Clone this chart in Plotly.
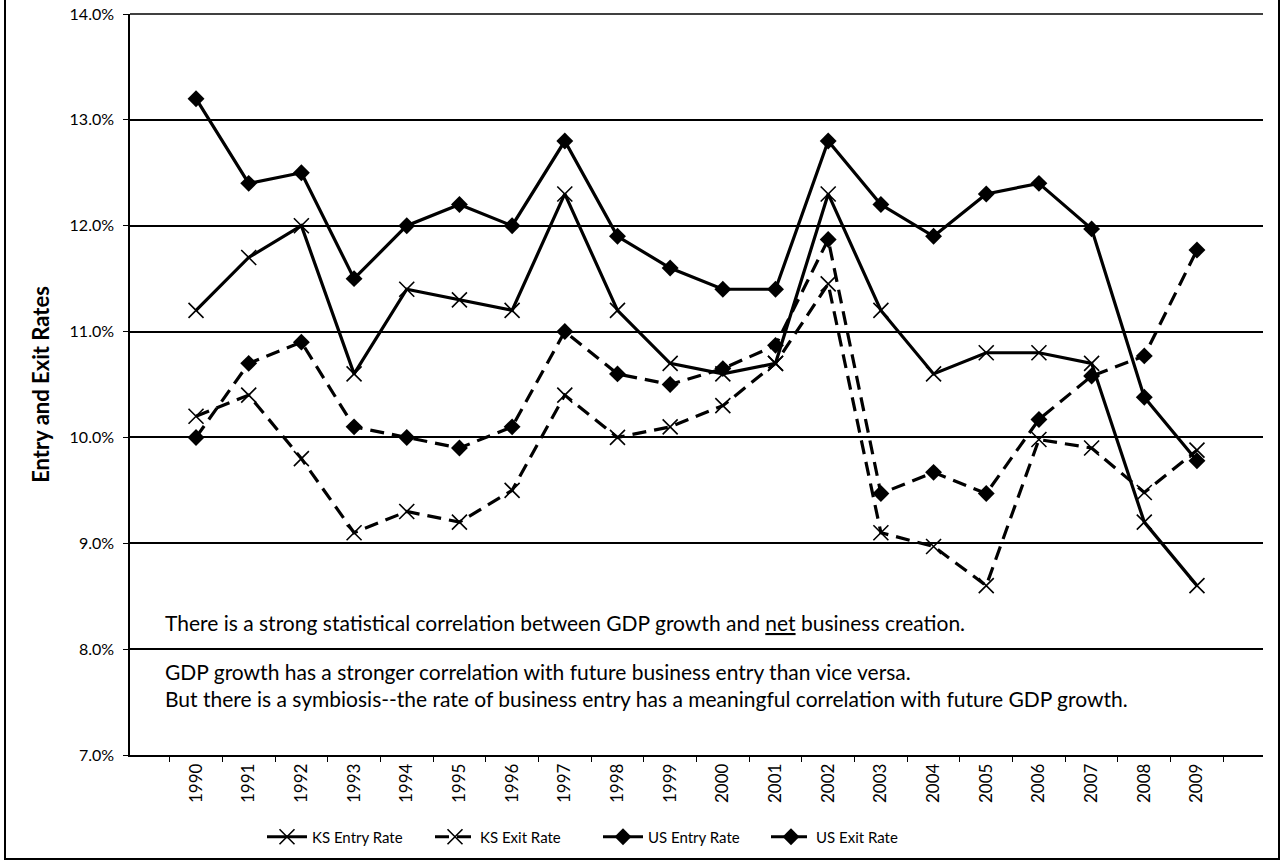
import plotly.graph_objects as go

years = [str(y) for y in range(1990, 2010)]
ks_entry = [11.2, 11.7, 12.0, 10.6, 11.4, 11.3, 11.2, 12.3, 11.2, 10.7, 10.6, 10.7, 12.3, 11.2, 10.6, 10.8, 10.8, 10.7, 9.2, 8.6]
ks_exit = [10.2, 10.4, 9.8, 9.1, 9.3, 9.2, 9.5, 10.4, 10.0, 10.1, 10.3, 10.7, 11.45, 9.1, 8.97, 8.6, 9.98, 9.9, 9.48, 9.88]
us_entry = [13.2, 12.4, 12.5, 11.5, 12.0, 12.2, 12.0, 12.8, 11.9, 11.6, 11.4, 11.4, 12.8, 12.2, 11.9, 12.3, 12.4, 11.97, 10.38, 9.78]
us_exit = [10.0, 10.7, 10.9, 10.1, 10.0, 9.9, 10.1, 11.0, 10.6, 10.5, 10.65, 10.87, 11.87, 9.47, 9.67, 9.47, 10.17, 10.58, 10.77, 11.77]

notes = [
    "There is a strong statistical correlation between GDP growth and <u>net</u> business creation.",
    "GDP growth has a stronger correlation with future business entry than vice versa.<br>But there is a symbiosis--the rate of business entry has a meaningful correlation with future GDP growth.",
]

FONT = "Lato"
xmark = dict(symbol="x-thin", size=15, color="black", line=dict(width=1.6, color="black"))
dmark = dict(symbol="diamond", size=13, color="black")
DASH = "14px,8px"

fig = go.Figure()
fig.add_trace(go.Scatter(x=years, y=ks_entry, name="KS Entry Rate", mode="lines+markers",
                         line=dict(color="black", width=3.2), marker=xmark))
fig.add_trace(go.Scatter(x=years, y=ks_exit, name="KS Exit Rate", mode="lines+markers",
                         line=dict(color="black", width=3.2, dash=DASH), marker=xmark))
fig.add_trace(go.Scatter(x=years, y=us_entry, name="US Entry Rate", mode="lines+markers",
                         line=dict(color="black", width=3.2), marker=dmark))
fig.add_trace(go.Scatter(x=years, y=us_exit, name="US Exit Rate", mode="lines+markers",
                         line=dict(color="black", width=3.2, dash=DASH), marker=dmark))

L, R, T, B = 130, 19, 14, 110
W, H = 1282, 865
pw, ph = W - L - R, H - T - B

def px(x):
    return (x - L) / pw

def py(y):
    return (H - B - y) / ph

fig.update_layout(
    width=W, height=H,
    margin=dict(l=L, r=R, t=T, b=B, autoexpand=False),
    paper_bgcolor="white", plot_bgcolor="white",
    font=dict(family=FONT, color="black", size=15),
    showlegend=True,
    legend=dict(orientation="h", x=px(262), xanchor="left", y=py(837), yanchor="middle",
                font=dict(size=15, family=FONT), bgcolor="rgba(0,0,0,0)", itemwidth=40,
                entrywidth=113, entrywidthmode="pixels", tracegroupgap=0),
    xaxis=dict(type="category", showline=True, linecolor="black", linewidth=1.5,
               ticks="outside", tickson="boundaries", ticklen=5, tickcolor="black",
               tickangle=-90, showgrid=False, automargin=False, tickfont=dict(size=17, family=FONT)),
    yaxis=dict(range=[7, 14], dtick=1, tickformat=".1f", ticksuffix="%",
               showline=True, linecolor="black", linewidth=1.5, ticks="outside", ticklen=5,
               tickcolor="black", showgrid=True, gridcolor="black", gridwidth=1.5,
               zeroline=False, automargin=False, ticklabelstandoff=6, tickfont=dict(size=16, family=FONT),
               title=dict(text="<b>Entry and Exit Rates</b>", font=dict(size=22, family=FONT), standoff=14)),
)

fig.add_annotation(x=px(163), y=py(622), xref="paper", yref="paper", xanchor="left", yanchor="middle",
                   text=notes[0], showarrow=False, align="left", font=dict(size=21, family=FONT))
fig.add_annotation(x=px(163), y=py(685), xref="paper", yref="paper", xanchor="left", yanchor="middle",
                   text=notes[1], showarrow=False, align="left", font=dict(size=21, family=FONT))

# top gridline and outer frame
fig.add_shape(type="line", xref="paper", yref="paper", x0=0, x1=1, y0=1, y1=1,
              line=dict(color="black", width=1.5))
fig.add_shape(type="rect", xref="paper", yref="paper", x0=px(5), x1=px(1279), y0=py(859), y1=py(-5),
              line=dict(color="black", width=2), fillcolor="rgba(0,0,0,0)")

fig.write_html("out.html", config={"displayModeBar": False},
               post_script="document.body.style.margin='0px';")
